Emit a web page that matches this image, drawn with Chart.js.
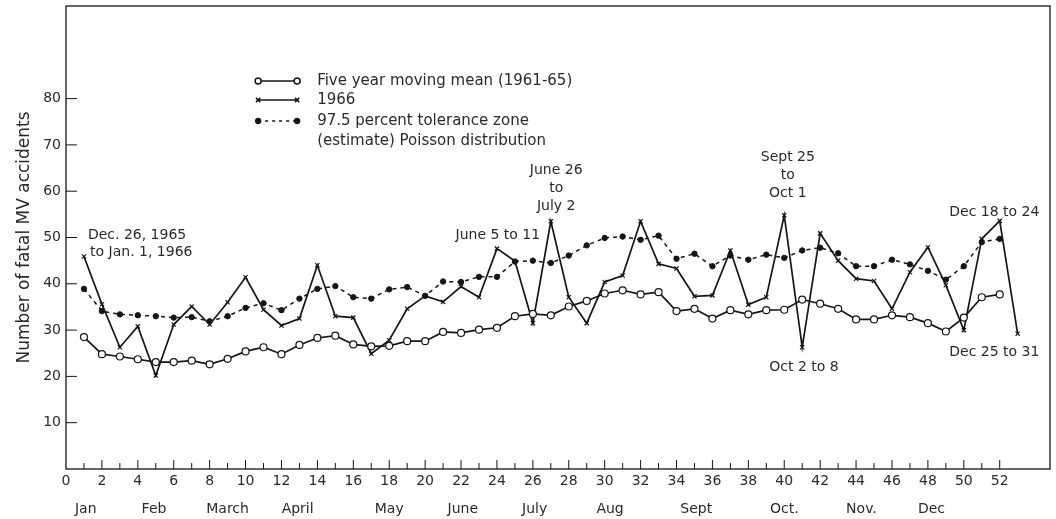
<!DOCTYPE html>
<html>
<head>
<meta charset="utf-8">
<style>
  html, body { margin: 0; padding: 0; background: #fff; }
  #wrap { width: 1056px; height: 519px; }
</style>
<script src="https://cdn.jsdelivr.net/npm/chart.js@4.4.0/dist/chart.umd.min.js"></script>
</head>
<body>
<div id="wrap"><canvas id="fatalChart"></canvas></div>
<script>
// weeks of the year (1966 runs to a 53rd week, Dec 25-31)
const weeks = [1, 2, 3, 4, 5, 6, 7, 8, 9, 10, 11, 12, 13, 14, 15, 16, 17, 18, 19, 20,
  21, 22, 23, 24, 25, 26, 27, 28, 29, 30, 31, 32, 33, 34, 35, 36, 37, 38, 39, 40,
  41, 42, 43, 44, 45, 46, 47, 48, 49, 50, 51, 52, 53];

const movingMean = [28.5, 24.8, 24.3, 23.7, 23.1, 23.1, 23.4, 22.6, 23.8, 25.4,
  26.3, 24.8, 26.8, 28.3, 28.8, 26.9, 26.5, 26.6, 27.6, 27.6,
  29.6, 29.4, 30.1, 30.5, 33.0, 33.5, 33.2, 35.1, 36.3, 37.9,
  38.6, 37.7, 38.2, 34.1, 34.6, 32.5, 34.3, 33.4, 34.3, 34.4,
  36.6, 35.7, 34.6, 32.3, 32.3, 33.2, 32.8, 31.5, 29.7, 32.7,
  37.1, 37.7];

const year1966 = [45.9, 35.6, 26.3, 30.8, 20.2, 31.2, 35.1, 31.2, 36.0, 41.4,
  34.4, 31.0, 32.5, 44.0, 33.0, 32.7, 24.9, 27.8, 34.6, 37.4,
  36.1, 39.4, 37.1, 47.6, 44.9, 31.5, 53.5, 37.1, 31.5, 40.4,
  41.8, 53.5, 44.3, 43.3, 37.3, 37.5, 47.2, 35.5, 37.1, 54.8,
  26.3, 50.9, 45.0, 41.1, 40.6, 34.6, 42.5, 47.9, 39.7, 30.0,
  49.7, 53.6, 29.2];

const tolerance = [38.9, 34.1, 33.4, 33.2, 33.0, 32.7, 32.8, 31.9, 33.0, 34.8,
  35.8, 34.3, 36.8, 38.9, 39.5, 37.1, 36.8, 38.8, 39.3, 37.4,
  40.5, 40.4, 41.5, 41.5, 44.8, 45.0, 44.5, 46.1, 48.3, 49.9,
  50.2, 49.5, 50.4, 45.4, 46.5, 43.8, 46.1, 45.2, 46.3, 45.6,
  47.2, 47.8, 46.6, 43.8, 43.8, 45.2, 44.2, 42.8, 40.9, 43.8,
  49.0, 49.7];

const weekTicks = [0, 2, 4, 6, 8, 10, 12, 14, 16, 18, 20, 22, 24, 26, 28, 30, 32, 34, 36, 38,
  40, 42, 44, 46, 48, 50, 52];
const valueTicks = [10, 20, 30, 40, 50, 60, 70, 80];
const monthNames = ['Jan', 'Feb', 'March', 'April', 'May', 'June', 'July', 'Aug', 'Sept', 'Oct.', 'Nov.', 'Dec'];
const monthWeeks = [1.1, 4.9, 9.0, 12.9, 18.0, 22.1, 26.1, 30.3, 35.1, 40.0, 44.3, 48.2];

const seriesNames = ['Five year moving mean (1961-65)', '1966', '97.5 percent tolerance zone', '(estimate) Poisson distribution'];

// text notes, anchored in week / value units
const notes = [
  { x: 1.22, y: 50.5, align: 'left', lines: ['Dec. 26, 1965'] },
  { x: 1.34, y: 46.7, align: 'left', lines: ['to Jan. 1, 1966'] },
  { x: 24.05, y: 50.5, align: 'center', lines: ['June 5 to 11'] },
  { x: 27.3, y: 64.4, align: 'center', lines: ['June 26', 'to', 'July 2'] },
  { x: 40.2, y: 67.4, align: 'center', lines: ['Sept 25', 'to', 'Oct 1'] },
  { x: 41.1, y: 22.0, align: 'center', lines: ['Oct 2 to 8'] },
  { x: 51.7, y: 55.5, align: 'center', lines: ['Dec 18 to 24'] },
  { x: 51.7, y: 25.3, align: 'center', lines: ['Dec 25 to 31'] }
];

const ink = '#151515';
const textInk = '#2a2a2a';
const fontFamily = '"DejaVu Sans", "Liberation Sans", sans-serif';

function toPoints(values) {
  return values.map((v, i) => ({ x: weeks[i], y: v }));
}

function noEdgePadding(axis) {
  axis.paddingTop = 0;
  axis.paddingBottom = 0;
  axis.paddingLeft = 0;
  axis.paddingRight = 0;
}

const framePlugin = {
  id: 'frame',
  afterDraw(chart) {
    const { ctx, chartArea: a, scales } = chart;
    ctx.save();
    ctx.strokeStyle = ink;
    ctx.lineWidth = 1.3;
    ctx.strokeRect(a.left, a.top, a.right - a.left, a.bottom - a.top);
    ctx.lineWidth = 1;
    ctx.beginPath();
    valueTicks.forEach(v => {
      const y = scales.y.getPixelForValue(v);
      ctx.moveTo(a.left, y);
      ctx.lineTo(a.left + 11, y);
    });
    weeks.slice(0, 52).forEach(w => {
      const x = scales.x.getPixelForValue(w);
      ctx.moveTo(x, a.bottom);
      ctx.lineTo(x, a.bottom - (w % 2 === 0 ? 9 : 6));
    });
    ctx.stroke();
    ctx.restore();
  }
};

const notesPlugin = {
  id: 'notes',
  afterDatasetsDraw(chart) {
    const { ctx, scales } = chart;
    ctx.save();
    ctx.fillStyle = textInk;
    ctx.font = '14px ' + fontFamily;
    ctx.textBaseline = 'middle';
    notes.forEach(n => {
      const x = scales.x.getPixelForValue(n.x);
      const y = scales.y.getPixelForValue(n.y);
      ctx.textAlign = n.align;
      n.lines.forEach((t, i) => ctx.fillText(t, x, y + i * 18));
    });

    // legend block
    const lx = scales.x.getPixelForValue(10.7);
    const ly = scales.y.getPixelForValue(83.8);
    const rows = [0, 19, 40, 60];
    const sample = 39;
    const styles = [
      { dash: [], point: 'circle', fill: '#fff', r: 3 },
      { dash: [], point: 'crossRot', fill: ink, r: 3 },
      { dash: [3, 4], point: 'circle', fill: ink, r: 2.4 }
    ];
    styles.forEach((s, i) => {
      const y = ly + rows[i];
      ctx.strokeStyle = ink;
      ctx.lineWidth = 1.5;
      ctx.setLineDash(s.dash);
      ctx.beginPath();
      ctx.moveTo(lx, y);
      ctx.lineTo(lx + sample, y);
      ctx.stroke();
      ctx.setLineDash([]);
      ctx.fillStyle = s.fill;
      [lx, lx + sample].forEach(px => {
        Chart.helpers.drawPoint(ctx, { pointStyle: s.point, radius: s.r, borderWidth: 1.2, rotation: 0 }, px, y);
      });
    });
    ctx.fillStyle = textInk;
    ctx.font = '15px ' + fontFamily;
    ctx.textAlign = 'left';
    seriesNames.forEach((t, i) => ctx.fillText(t, lx + 59, ly + rows[i]));
    ctx.restore();
  }
};

new Chart(document.getElementById('fatalChart'), {
  type: 'line',
  data: {
    datasets: [
      {
        label: seriesNames[0],
        data: toPoints(movingMean),
        borderColor: ink,
        borderWidth: 1.7,
        pointStyle: 'circle',
        pointRadius: 3.5,
        pointBackgroundColor: '#fff',
        pointBorderColor: ink,
        pointBorderWidth: 1.2
      },
      {
        label: seriesNames[1],
        data: toPoints(year1966),
        borderColor: ink,
        borderWidth: 1.7,
        pointStyle: 'crossRot',
        pointRadius: 3,
        pointBorderColor: ink,
        pointBorderWidth: 1.2
      },
      {
        label: seriesNames[2],
        data: toPoints(tolerance),
        borderColor: ink,
        borderWidth: 1.5,
        borderDash: [4, 4],
        pointStyle: 'circle',
        pointRadius: 2.7,
        pointBackgroundColor: ink,
        pointBorderColor: ink,
        pointBorderWidth: 1
      }
    ]
  },
  options: {
    responsive: true,
    maintainAspectRatio: false,
    animation: false,
    layout: { padding: { top: 6, right: 6, left: 0, bottom: 0 } },
    plugins: {
      legend: { display: false },
      tooltip: { enabled: false }
    },
    scales: {
      x: {
        type: 'linear',
        position: 'bottom',
        min: 0,
        max: 54.8,
        grid: { display: false, drawTicks: false },
        border: { display: false },
        afterBuildTicks: axis => { axis.ticks = weekTicks.map(v => ({ value: v })); },
        afterFit: axis => { axis.height = 28; noEdgePadding(axis); },
        ticks: {
          autoSkip: false,
          maxRotation: 0,
          padding: 4,
          color: textInk,
          font: { family: fontFamily, size: 14 }
        }
      },
      months: {
        type: 'linear',
        position: 'bottom',
        min: 0,
        max: 54.8,
        grid: { display: false, drawTicks: false },
        border: { display: false },
        afterBuildTicks: axis => { axis.ticks = monthWeeks.map(v => ({ value: v })); },
        afterFit: axis => { axis.height = 22; noEdgePadding(axis); },
        ticks: {
          autoSkip: false,
          maxRotation: 0,
          padding: 4,
          color: textInk,
          font: { family: fontFamily, size: 14 },
          callback: (v, i) => monthNames[i]
        }
      },
      y: {
        min: 0,
        max: 100,
        grid: { display: false, drawTicks: false },
        border: { display: false },
        afterBuildTicks: axis => { axis.ticks = valueTicks.map(v => ({ value: v })); },
        afterFit: axis => { axis.width = 66; noEdgePadding(axis); },
        ticks: {
          padding: 5,
          color: textInk,
          font: { family: fontFamily, size: 14 }
        },
        title: {
          display: true,
          text: 'Number of fatal MV accidents',
          color: textInk,
          padding: { top: 14, bottom: 0 },
          font: { family: fontFamily, size: 17 }
        }
      }
    }
  },
  plugins: [framePlugin, notesPlugin]
});
</script>
</body>
</html>
